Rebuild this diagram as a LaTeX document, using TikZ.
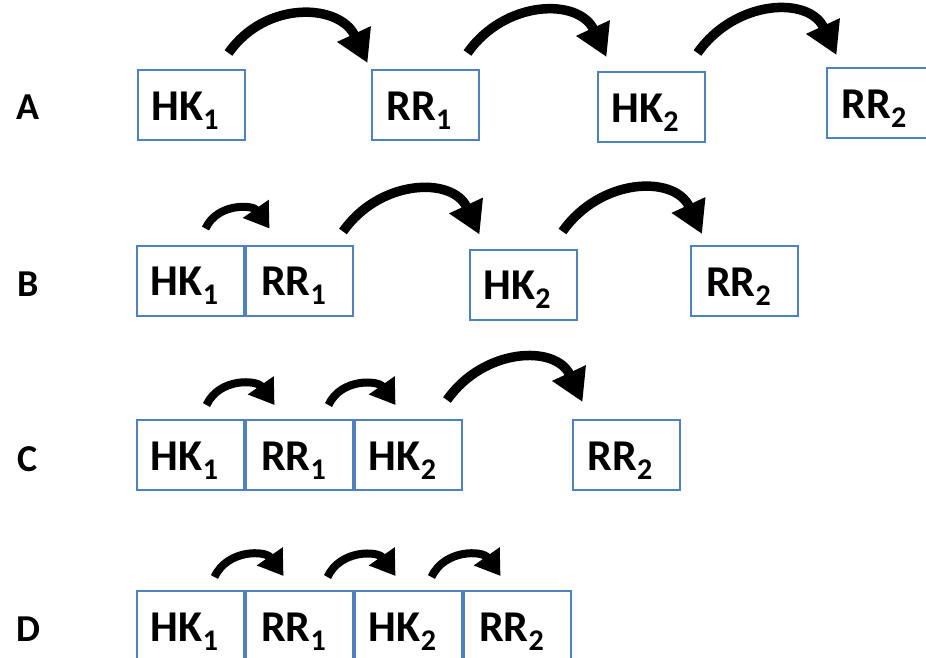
\documentclass[tikz,border=0pt]{standalone}
\usepackage{fontspec}
\setmainfont{Carlito}
\usepackage{tikz}
\usetikzlibrary{arrows.meta}
\definecolor{boxblue}{RGB}{79,129,189}
\newcommand{\sname}[2]{\raisebox{-15pt}[0pt][0pt]{#1\raisebox{-9pt}{\fontsize{30}{30}\selectfont #2}}\kern12pt}

\tikzset{
  prot/.style={draw=boxblue, line width=2pt, minimum width=107pt, minimum height=70pt,
    inner sep=0pt, font=\bfseries\fontsize{44}{44}\selectfont},
  rowlab/.style={anchor=base, font=\bfseries\fontsize{38}{38}\selectfont},
  bigarr/.style={line width=9.5pt, -{Triangle[length=32pt,width=35pt]}, out=55, in=115, looseness=1.2},
  smallarr/.style={line width=8pt, -{Triangle[length=24pt,width=30pt]}, out=65, in=125, looseness=1.15}
}

\begin{document}
\begin{tikzpicture}[x=1pt, y=1pt]
    \useasboundingbox (0,0) rectangle (926,-657);

    \node[rowlab] (la) at (28,-119) {A};
    \node[rowlab] (lb) at (28,-296) {B};
    \node[rowlab] (lc) at (28,-471) {C};
    \node[rowlab] (ld) at (28,-641) {D};

    % A
    \node[prot] (a1) at (191,-105) {\sname{HK}{1}};
    \node[prot] (a2) at (425,-105) {\sname{RR}{1}};
    \node[prot] (a3) at (651,-107) {\sname{HK}{2}};
    \node[prot] (a4) at (880,-103) {\sname{RR}{2}};
    \draw[bigarr] ([xshift=-17pt,yshift=16pt]a1.north east) to ([xshift=-3pt,yshift=6pt]a2.north west);
    \draw[bigarr] ([xshift=-12pt,yshift=16pt]a2.north east) to ([xshift=10pt,yshift=14pt]a3.north west);
    \draw[bigarr] ([xshift=-8pt,yshift=18pt]a3.north east) to ([xshift=11pt,yshift=12pt]a4.north west);

    % B
    \node[prot] (b1) at (190.5,-280.5) {\sname{HK}{1}};
    \node[prot, anchor=west] (b2) at (b1.east) {\sname{RR}{1}};
    \node[prot] (b3) at (523,-284.5) {\sname{HK}{2}};
    \node[prot] (b4) at (744.5,-281) {\sname{RR}{2}};
    \draw[smallarr] ([xshift=15pt,yshift=16pt]b1.north) to ([xshift=-30pt,yshift=16pt]b2.north);
    \draw[bigarr] ([xshift=-11pt,yshift=13pt]b2.north east) to ([xshift=11pt,yshift=14pt]b3.north west);
    \draw[bigarr] ([xshift=-15pt,yshift=17pt]b3.north east) to ([xshift=12pt,yshift=11pt]b4.north west);

    % C
    \node[prot] (c1) at (190.5,-455) {\sname{HK}{1}};
    \node[prot, anchor=west] (c2) at (c1.east) {\sname{RR}{1}};
    \node[prot, anchor=west] (c3) at (c2.east) {\sname{HK}{2}};
    \node[prot] (c4) at (626,-455) {\sname{RR}{2}};
    \draw[smallarr] ([xshift=16pt,yshift=14pt]c1.north) to ([xshift=-25pt,yshift=14pt]c2.north);
    \draw[smallarr] ([xshift=29pt,yshift=14pt]c2.north) to ([xshift=-13pt,yshift=14pt]c3.north);
    \draw[bigarr] ([xshift=-16pt,yshift=19pt]c3.north east) to ([xshift=11pt,yshift=17pt]c4.north west);

    % D
    \node[prot] (d1) at (190.5,-626) {\sname{HK}{1}};
    \node[prot, anchor=west] (d2) at (d1.east) {\sname{RR}{1}};
    \node[prot, anchor=west] (d3) at (d2.east) {\sname{HK}{2}};
    \node[prot, anchor=west] (d4) at (d3.east) {\sname{RR}{2}};
    \draw[smallarr] ([xshift=24pt,yshift=13pt]d1.north) to ([xshift=-16pt,yshift=14pt]d2.north);
    \draw[smallarr] ([xshift=28pt,yshift=13pt]d2.north) to ([xshift=-13pt,yshift=14pt]d3.north);
    \draw[smallarr] ([xshift=23pt,yshift=13pt]d3.north) to ([xshift=-17pt,yshift=14pt]d4.north);
\end{tikzpicture}
\end{document}
